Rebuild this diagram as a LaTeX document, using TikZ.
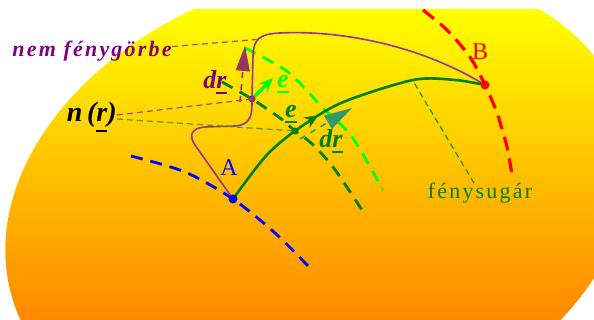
\documentclass[tikz,border=0pt]{standalone}
\usepackage{fontspec}
\setmainfont{Liberation Serif}
\newfontfamily\spacedfont[LetterSpace=10]{Liberation Serif}
\usetikzlibrary{arrows.meta,decorations.markings}
\definecolor{RayGreen}{RGB}{0,128,0}
\definecolor{BrightGreen}{RGB}{0,255,0}
\definecolor{CurvePurple}{RGB}{153,51,153}
\definecolor{DrPurple}{RGB}{153,51,102}
\definecolor{LabelPurple}{RGB}{128,0,128}
\definecolor{DrTeal}{RGB}{51,153,102}
\definecolor{LeadPurple}{RGB}{170,70,140}
\definecolor{LeadGreen}{RGB}{90,150,0}
\definecolor{SkyYellow}{RGB}{255,255,0}
\definecolor{SkyAmber}{RGB}{255,208,0}
\definecolor{SkyOrange}{RGB}{255,136,0}
\newcommand{\uvec}[2][-2.6pt]{\setbox0=\hbox{#2}\rlap{\copy0}\raisebox{#1}{\rule{\wd0}{1.1pt}}}

\begin{document}
\begin{tikzpicture}[x=0.5pt,y=-0.5pt,>=Stealth,
    lead/.style={dashed,dash pattern=on 3pt off 2pt,line width=0.6pt},
    wave/.style={dash pattern=on 6pt off 4pt,line width=1.4pt},
    lab/.style={font=\bfseries\itshape\fontsize{13}{15}\selectfont,inner sep=0pt}]
      \useasboundingbox (0,0) rectangle (594,320);
      % background
      \begin{scope}
        \clip (0,10) rectangle (594,320);
        \clip[rotate around={16.85:(318.5,206)}] (318.5,206) ellipse [x radius=159.9pt,y radius=114.4pt];
        \shade[top color=SkyYellow,middle color=SkyAmber,bottom color=SkyOrange] (0,10) rectangle (594,320);
      \end{scope}
      \coordinate (A) at (233,199);
      \coordinate (B) at (485,85);
      \coordinate (P) at (252,99);
      \coordinate (G) at (295,131);
      \coordinate (nemend) at (262,39);
      \coordinate (rayend) at (413,81);
      \coordinate (dr1s) at (240,102);
      \coordinate (dr1e) at (245,46);
      \coordinate (dr2s) at (300,139);
      \coordinate (dr2e) at (352,108);
      \coordinate (e1e) at (273,78);
      % wave fronts
      \draw[wave,blue] plot[smooth] coordinates {(131,156) (185,172) (A) (275,233) (309,267)};
      \draw[wave,red,line width=1.6pt,dash pattern=on 7pt off 4pt] plot[smooth] coordinates {(423,10) (447,30) (470,57) (B) (497,113) (507,147) (512,175)};
      \draw[wave,BrightGreen] plot[smooth] coordinates {(245,48) (288,72) (322,107) (352,137) (383,190)};
      \draw[wave,RayGreen] plot[smooth] coordinates {(222,82) (P) (280,118) (G) (311,143) (333,167) (362,210)};
      % curves
      \draw[CurvePurple,line width=0.8pt] (A) -- (195,145) .. controls (188,135) and (192,128) .. (205,127)
        -- (235,126) .. controls (248,125) and (252,118) .. (252,105) -- (P) -- (253,55)
        .. controls (254,40) and (258,34) .. (280,33) .. controls (340,30) and (420,45) .. (B);
      \draw[RayGreen,line width=1.3pt,postaction={decorate},
        decoration={markings,mark=at position 0.41 with {\arrow{Stealth[length=7pt,width=6pt]}}}]
        plot[smooth] coordinates {(A) (265,157) (G) (341,103) (413,80) (455,80) (B)};
      % vectors
      \draw[DrPurple,dashed,line width=0.8pt,-{Triangle[length=12.5pt,width=7pt]}] (dr1s) -- (dr1e);
      \draw[DrTeal,dashed,line width=0.8pt,-{Triangle[length=14pt,width=7.5pt]}] (dr2s) -- (dr2e);
      \draw[BrightGreen,line width=1.6pt,-{Stealth[length=7pt,width=6pt]}] (P) -- (e1e);
      % points
      \fill[DrPurple] (P) circle (3.5);
      \fill[RayGreen] (G) circle (3.5);
      \fill[blue] (A) circle (4.5);
      \fill[red] (B) circle (4.5);
      % labels
      \node[lab,LabelPurple,font=\spacedfont\bfseries\itshape\fontsize{11}{13}\selectfont,anchor=base west] (nemlab) at (12,57) {nem fénygörbe};
      \node[lab,font=\bfseries\itshape\fontsize{14}{16}\selectfont,anchor=east] (nlab) at (117,117) {n\,(\uvec[-5pt]{r})};
      \node[blue,font=\fontsize{12}{14}\selectfont,inner sep=0pt] (Alab) at (229,168) {A};
      \node[red,font=\fontsize{12}{14}\selectfont,inner sep=0pt] (Blab) at (480,52) {B};
      \node[lab,LabelPurple,anchor=base] (drlab1) at (215,89) {d\uvec{r}};
      \node[lab,BrightGreen,anchor=base] (e1lab) at (283,88) {\uvec{e}};
      \node[lab,RayGreen,anchor=base] (e2lab) at (291,118) {\uvec{e}};
      \node[lab,RayGreen,anchor=base] (drlab2) at (331,148) {d\uvec{r}};
      \node[RayGreen,font=\spacedfont\fontsize{11}{13}\selectfont,inner sep=0pt,anchor=base] (raylab) at (480,199) {fénysugár};
      % leaders
      \draw[lead,LeadPurple] ([yshift=2.5pt]nemlab.east) -- (nemend);
      \draw[lead,LeadPurple] ([yshift=1pt]nlab.east) -- (P);
      \draw[lead,LeadGreen] ([yshift=-1pt]nlab.east) -- (G);
      \draw[lead,RayGreen,line width=0.5pt] ([xshift=-3pt]raylab.north) -- (rayend);
    \end{tikzpicture}
\end{document}
